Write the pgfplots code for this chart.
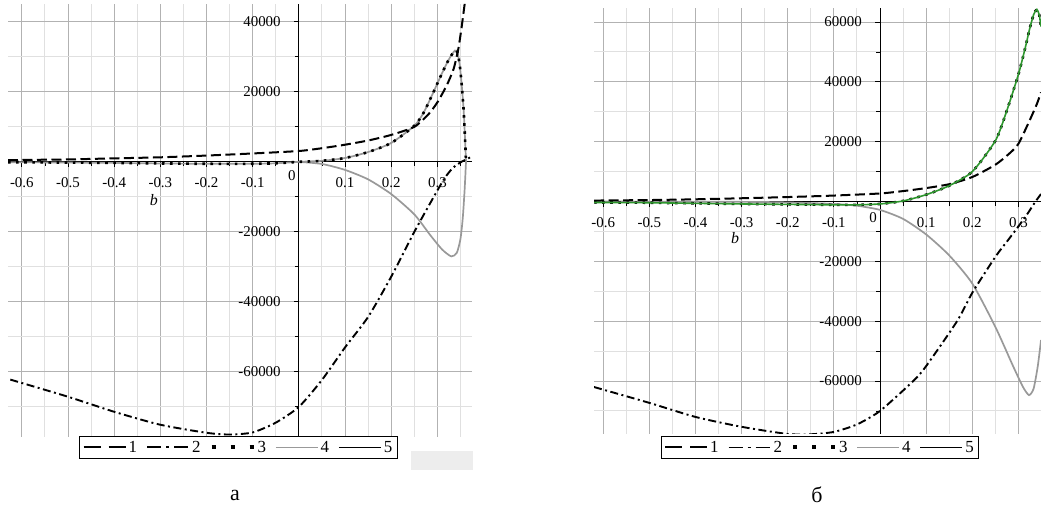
\documentclass[border=0pt]{standalone}
\usepackage{fontspec}
\setmainfont{Liberation Serif}
\usepackage{pgfplots}
\pgfplotsset{compat=1.18}
\definecolor{gridmaj}{gray}{0.70}
\definecolor{gridmin}{gray}{0.88}
\definecolor{cgray}{gray}{0.6}
\definecolor{cgreen}{RGB}{46,150,46}
\pgfplotsset{
  panel/.style={
    scale only axis, anchor=south west,
    axis lines=middle,
    axis line style={black, line width=1bp, -},
    every inner x axis line/.append style={-},
    every inner y axis line/.append style={-},
    grid=both,
    major grid style={draw=gridmaj, line width=1bp},
    minor grid style={draw=gridmin, line width=1bp},
    tick align=outside,
    major tick length=5bp, minor tick length=4bp,
    tick style={black, line width=0.8bp},
    scaled ticks=false,
    xticklabel style={font=\fontsize{15}{15}\selectfont, anchor=base, inner sep=0pt, yshift=-21bp},
    yticklabel style={font=\fontsize{15}{15}\selectfont, anchor=east, inner sep=0pt, xshift=-13bp},
    xtick={-0.6,-0.5,-0.4,-0.3,-0.2,-0.1,0.1,0.2,0.3},
    xticklabels={-0.6,-0.5,-0.4,-0.3,-0.2,-0.1,0.1,0.2,0.3},
    minor xtick={-0.55,-0.45,-0.35,-0.25,-0.15,-0.05,0.05,0.15,0.25,0.35},
    legend columns=5,
    legend style={draw=black, line width=0.8bp, fill=white, font=\fontsize{17}{17}\selectfont, inner xsep=3bp, inner ysep=2.5bp, anchor=center, /tikz/every even column/.append style={column sep=7bp}},
    legend image code/.code={\draw[#1] (0bp,0bp) -- (42bp,0bp);},
  },
  c1/.style={black, line width=2bp, dash pattern=on 10bp off 4.5bp},
  c2/.style={black, line width=1.9bp, dash pattern=on 8bp off 3.5bp on 2bp off 3.5bp},
  c3/.style={black, line width=2.6bp, dash pattern=on 2.6bp off 5.5bp},
  c4/.style={cgray, line width=1.7bp},
  c5/.style={black, line width=1.7bp},
  l1/.style={black, line width=2bp, dash pattern=on 17bp off 8bp},
  l2/.style={black, line width=1.9bp, dash pattern=on 14bp off 5bp on 3bp off 5bp},
  l3/.style={black, line width=4bp, dash pattern=on 4bp off 15bp},
}
\begin{document}
\begin{tikzpicture}[x=1bp,y=1bp]
\useasboundingbox (0,0) rectangle (1041,511);
\fill[black!7] (411,41) rectangle (473,60);
% ---------------- panel a ----------------
\begin{axis}[panel, at={(8bp,74bp)}, width=464bp, height=433bp,
  xmin=-0.63, xmax=0.375, ymin=-78600, ymax=45100,
  ytick={-60000,-40000,-20000,20000,40000},
  yticklabels={-60000,-40000,-20000,20000,40000},
  minor ytick={-70000,-50000,-30000,-10000,10000,30000},
  legend style={at={(0.4968,-0.024)}}]
\addlegendimage{l1}\addlegendentry{1}
\addlegendimage{l2}\addlegendentry{2}
\addlegendimage{l3}\addlegendentry{3}
\addlegendimage{c4}\addlegendentry{4}
\addlegendimage{c5}\addlegendentry{5}
% curve 4 (upper and lower branches)
\addplot[c4, smooth, tension=0.4, forget plot] coordinates {
(-0.63,-100) (-0.5,-200) (-0.4,-300) (-0.3,-450) (-0.2,-550) (-0.1,-550) (-0.05,-400) (0,0)
(0.05,300) (0.1,1100) (0.15,2800) (0.2,5400) (0.25,10300) (0.27,14000) (0.29,19500) (0.31,25300)
(0.325,29300) (0.338,31800) (0.344,31000) (0.349,27000) (0.353,21500) (0.357,14500) (0.36,6300) (0.362,0)};
\addplot[c4, smooth, tension=0.4, forget plot] coordinates {
(0,0) (0.05,-600) (0.1,-2300) (0.15,-5000) (0.2,-9200) (0.25,-15000) (0.285,-21000) (0.31,-25000)
(0.33,-27000) (0.342,-26000) (0.35,-22000) (0.355,-16000) (0.359,-8000) (0.362,0)};
% curve 3
\addplot[c3, smooth, tension=0.4, forget plot] coordinates {
(-0.63,-100) (-0.5,-200) (-0.4,-300) (-0.3,-450) (-0.2,-550) (-0.1,-550) (-0.05,-400) (0,0)
(0.05,300) (0.1,1100) (0.15,2800) (0.2,5400) (0.25,10300) (0.27,14000) (0.29,19500) (0.31,25300)
(0.325,29300) (0.338,31800) (0.344,31000) (0.349,27000) (0.353,21500) (0.357,14500) (0.36,6300) (0.362,0)};
% curve 1
\addplot[c1, smooth, tension=0.4, forget plot] coordinates {
(-0.63,500) (-0.5,700) (-0.4,1000) (-0.3,1300) (-0.2,1800) (-0.1,2400) (0,3100) (0.05,3900)
(0.1,4900) (0.15,6100) (0.2,7700) (0.25,10000) (0.28,13500) (0.3,17000) (0.32,21800) (0.335,26500)
(0.345,32000) (0.352,38000) (0.358,44000) (0.362,48000)};
% curve 2
\addplot[c2, smooth, tension=0.4, forget plot] coordinates {
(-0.625,-62200) (-0.5,-67100) (-0.4,-71400) (-0.3,-75100) (-0.2,-77400) (-0.15,-77900) (-0.1,-77300)
(-0.05,-74500) (0,-70000) (0.05,-62300) (0.1,-53000) (0.15,-44300) (0.2,-32800) (0.25,-20000)
(0.29,-10500) (0.315,-4800) (0.333,-1800) (0.352,0) (0.375,1500)};
\node[font=\fontsize{15}{15}\selectfont, xshift=-7bp, yshift=-14bp] at (axis cs:0,0) {0};
\node[font=\fontsize{16}{16}\itshape] at (axis cs:-0.314,-10860) {b};
\end{axis}
% ---------------- panel б ----------------
\begin{axis}[panel, at={(594bp,77bp)}, width=447bp, height=426bp,
  xmin=-0.62, xmax=0.349, ymin=-77700, ymax=64700,
  ytick={-60000,-40000,-20000,20000,40000,60000},
  yticklabels={-60000,-40000,-20000,20000,40000,60000},
  minor ytick={-70000,-50000,-30000,-10000,10000,30000,50000},
  legend style={at={(0.5056,-0.0317)}}]
\addlegendimage{l1}\addlegendentry{1}
\addlegendimage{l2}\addlegendentry{2}
\addlegendimage{l3}\addlegendentry{3}
\addlegendimage{c4}\addlegendentry{4}
\addlegendimage{c5}\addlegendentry{5}
% curve 4
\addplot[c4, smooth, tension=0.4, forget plot] coordinates {
(-0.62,0) (-0.3,-100) (-0.2,-300) (-0.1,-800) (-0.05,-1400) (0,-2800) (0.05,-5800) (0.1,-11000)
(0.15,-18000) (0.2,-27400) (0.25,-41900) (0.289,-55200) (0.31,-62000) (0.323,-64700) (0.333,-62500)
(0.342,-55000) (0.349,-46300)};
% curve 1
\addplot[c1, smooth, tension=0.4, forget plot] coordinates {
(-0.62,330) (-0.5,500) (-0.4,750) (-0.3,1100) (-0.2,1500) (-0.1,2000) (0,2700) (0.05,3500)
(0.1,4500) (0.15,5800) (0.2,8200) (0.25,12300) (0.28,16000) (0.3,19300) (0.324,27000) (0.34,32600) (0.349,36500)};
% curve 2
\addplot[c2, smooth, tension=0.4, forget plot] coordinates {
(-0.62,-62000) (-0.5,-67300) (-0.4,-72000) (-0.3,-75300) (-0.2,-77700) (-0.15,-77800) (-0.1,-77000)
(-0.05,-74500) (0,-70000) (0.072,-60000) (0.1,-55000) (0.167,-40000) (0.2,-30500) (0.25,-18500)
(0.278,-12800) (0.3,-8300) (0.32,-4000) (0.337,0) (0.349,2500)};
% curve 3
\addplot[c3, smooth, tension=0.4, forget plot] coordinates {
(-0.62,-300) (-0.5,-400) (-0.4,-600) (-0.3,-800) (-0.2,-950) (-0.1,-1100) (-0.05,-1100) (0,-800)
(0.05,200) (0.1,2300) (0.15,5300) (0.2,10000) (0.25,20300) (0.274,30000) (0.3,42500) (0.315,51500)
(0.324,57500) (0.333,62500) (0.34,64200) (0.345,62500) (0.349,58500)};
% curve 5 (green)
\addplot[cgreen, line width=1.6bp, smooth, tension=0.4, forget plot] coordinates {
(-0.62,-300) (-0.5,-400) (-0.4,-600) (-0.3,-800) (-0.2,-950) (-0.1,-1100) (-0.05,-1100) (0,-800)
(0.05,200) (0.1,2300) (0.15,5300) (0.2,10000) (0.25,20300) (0.274,30000) (0.3,42500) (0.315,51500)
(0.324,57500) (0.333,62500) (0.34,64200) (0.345,62500) (0.349,58500)};
\node[font=\fontsize{15}{15}\selectfont, xshift=-7bp, yshift=-16bp] at (axis cs:0,0) {0};
\node[font=\fontsize{16}{16}\itshape] at (axis cs:-0.314,-12300) {b};
\end{axis}
\node[font=\fontsize{22}{22}\selectfont] at (235,16) {а};
\node[font=\fontsize{22}{22}\selectfont] at (817,16) {б};
\end{tikzpicture}
\end{document}
